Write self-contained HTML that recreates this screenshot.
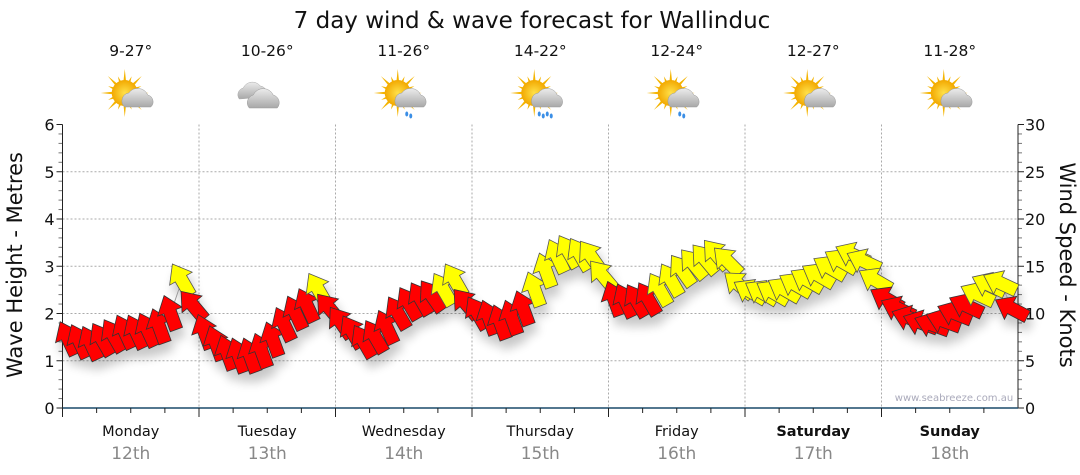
<!DOCTYPE html>
<html><head><meta charset="utf-8"><style>
body{margin:0;background:#fff;}
svg{display:block;font-family:"DejaVu Sans","Liberation Sans",sans-serif;}
</style></head><body>
<svg id="chart" width="1080" height="475" viewBox="0 0 1080 475">
<defs>
<filter id="sh" x="-50%" y="-50%" width="200%" height="200%"><feGaussianBlur in="SourceAlpha" stdDeviation="5"/><feOffset dx="3" dy="9"/><feComponentTransfer><feFuncA type="linear" slope="0.22"/></feComponentTransfer><feMerge><feMergeNode/><feMergeNode in="SourceGraphic"/></feMerge></filter>
<radialGradient id="sun" cx="0.5" cy="0.5" r="0.5"><stop offset="0" stop-color="#ffe14a"/><stop offset="1" stop-color="#f2a800"/></radialGradient>
<linearGradient id="cloud" x1="0" y1="0" x2="0" y2="1"><stop offset="0" stop-color="#ececec"/><stop offset="1" stop-color="#a8a8a8"/></linearGradient>
</defs>
<text x="532" y="28" font-size="23" text-anchor="middle" fill="#111">7 day wind &amp; wave forecast for Wallinduc</text>
<g id="grid"></g>
<g id="axes"></g>
<g id="icons"></g>
<g id="series" filter="url(#sh)"></g>
<text x="954" y="401" font-size="10" fill="#aab" text-anchor="middle">www.seabreeze.com.au</text>
<text transform="translate(22,265) rotate(-90)" font-size="21" text-anchor="middle" fill="#111">Wave Height - Metres</text>
<text transform="translate(1060,265) rotate(90)" font-size="21" text-anchor="middle" fill="#111">Wind Speed - Knots</text>
</svg>
<script>
const days=["Monday","Tuesday","Wednesday","Thursday","Friday","Saturday","Sunday"];
const dates=["12th","13th","14th","15th","16th","17th","18th"];
const temps=["9-27°","10-26°","11-26°","14-22°","12-24°","12-27°","11-28°"];
const icons=["sunCloud","cloud","sunRain","sunRainHeavy","sunRain","sunCloud","sunCloud"];
const leftTicks=[0,1,2,3,4,5,6];
const rightTicks=[0,5,10,15,20,25,30];
const windSpeed=[7.3,7,6.8,7.2,7.6,8,8,8.2,8.6,10,13.5,10.8,
 8,6.8,5.8,5.5,5.5,6,7.2,8.8,10,10.8,12.5,10.5,
 9,8,7,7.5,8.5,10,11,11.5,11.8,12.5,13.5,11,
 10,9.5,9,9.5,10.5,12.5,14.5,16,16.5,16.2,16,14,
 11.5,11.3,11.3,11.5,12.5,13.5,14.5,15.2,15.7,16.2,15.5,13,
 12.3,12.2,12.2,12.5,13,13.5,14,14.8,15.5,16.2,15.5,13.5,
 11.5,10.5,9.5,9,8.8,9.2,10,10.8,12,13,13.2,10.5];
const windDir=[155,155,155,150,150,155,155,155,160,160,150,140,
 160,160,160,160,160,160,160,155,155,155,150,140,
 145,150,150,150,155,150,150,150,145,150,150,140,
 150,160,160,160,160,160,160,155,150,150,145,140,
 160,155,150,150,150,150,145,140,140,140,135,130,
 120,120,120,120,120,120,120,120,120,115,115,120,
 120,115,110,110,110,110,112,115,115,115,115,118];
const X0=62.5,X1=1018,Y0=408,Y6=124.5;
const dayW=(X1-X0)/7;
const xT=i=>X0+(i+0.5)*dayW/12;
const yM=m=>Y0-(Y0-Y6)*m/6;
const yK=k=>Y0-(Y0-Y6)*k/30;
const NS="http://www.w3.org/2000/svg";
function mk(t,a,p){const e=document.createElementNS(NS,t);for(const k in a)e.setAttribute(k,a[k]);p.appendChild(e);return e;}
const grid=document.getElementById('grid'),axes=document.getElementById('axes'),icG=document.getElementById('icons'),ser=document.getElementById('series');
leftTicks.forEach(v=>{if(v>0&&v<6){const l=mk('line',{x1:X0,x2:X1,y1:yM(v),y2:yM(v),stroke:'#aaa','stroke-dasharray':'2,2'},grid);

}
const t=mk('text',{x:X0-8,y:yM(v)+6,'font-size':16,'text-anchor':'end',fill:'#111'},axes);t.textContent=v;

});
rightTicks.forEach(v=>{const t=mk('text',{x:X1+7,y:yK(v)+6,'font-size':16,fill:'#111'},axes);t.textContent=v;

});
for(let m=0;m<=30;m++){mk('line',{x1:X0-(m%5?4:6),x2:X0,y1:Y0-(Y0-Y6)*m/30,y2:Y0-(Y0-Y6)*m/30,stroke:m%5?'#777':'#222','stroke-width':1},axes);}
for(let k=0;k<=30;k++){mk('line',{x1:X1,x2:X1+(k%5?4:6),y1:yK(k),y2:yK(k),stroke:k%5?'#777':'#222'},axes);}
mk('line',{x1:X0,x2:X0,y1:Y6,y2:Y0,stroke:'#222'},axes);
mk('line',{x1:X1,x2:X1,y1:Y6,y2:Y0,stroke:'#222'},axes);
mk('line',{x1:X0,x2:X1,y1:Y0,y2:Y0,stroke:'#1a4a6a','stroke-width':1.5},axes);
for(let d=0;d<7;d++){
 const xs=X0+d*dayW,cx=xs+dayW/2;
 if(d>0){const l=mk('line',{x1:xs,x2:xs,y1:Y6,y2:Y0,stroke:'#aaa','stroke-dasharray':'2,2'},grid);
 
 }
 for(let q=0;q<4;q++){mk('line',{x1:xs+q*dayW/4,x2:xs+q*dayW/4,y1:Y0,y2:Y0+(q?5:9),stroke:'#222'},axes);}
 const dl=mk('text',{x:cx,y:436,'font-size':14.5,'text-anchor':'middle',fill:'#111','font-weight':d>=5?'bold':'normal'},axes);dl.textContent=days[d];
 
 
 const dt=mk('text',{x:cx,y:459,'font-size':17,'text-anchor':'middle',fill:'#888'},axes);dt.textContent=dates[d];
 
 
 const tt=mk('text',{x:cx,y:56,'font-size':15.5,'text-anchor':'middle',fill:'#111'},icG);tt.textContent=temps[d];
 
 
 const g=mk('g',{transform:`translate(${cx},95)`},icG);
 
 
 const ty=icons[d];
 if(ty!=='cloud'){
  for(let r=0;r<16;r++){const a=r*Math.PI/8;const L=r%2?18:24;mk('polygon',{points:`${-6+Math.cos(a-0.15)*10},${-2+Math.sin(a-0.15)*10} ${-6+Math.cos(a)*L},${-2+Math.sin(a)*L} ${-6+Math.cos(a+0.15)*10},${-2+Math.sin(a+0.15)*10}`,fill:'#f4b400'},g);}
  mk('circle',{cx:-6,cy:-2,r:13,fill:'url(#sun)'},g);
  mk('path',{d:'M-6,12 a8,8 0 0 1 4,-14 a11,11 0 0 1 19,2 a7,7 0 0 1 3,12 z',fill:'url(#cloud)',stroke:'#999','stroke-width':0.5},g);
  if(ty!=='sunCloud'){const n=ty==='sunRainHeavy'?4:2;for(let r=0;r<n;r++)mk('ellipse',{cx:3+r*4-(n>2?4:0),cy:19+(r%2)*2,rx:1.5,ry:2.5,fill:'#3a8ee6'},g);}
 }else{
  mk('path',{d:'M-28,4 a7,7 0 0 1 4,-11 a10,10 0 0 1 17,-2 a7,7 0 0 1 5,11 z',fill:'url(#cloud)',stroke:'#aaa','stroke-width':0.5},g);
  mk('path',{d:'M-18,13 a8,8 0 0 1 4,-13 a11,11 0 0 1 20,0 a8,8 0 0 1 4,13 z',fill:'url(#cloud)',stroke:'#999','stroke-width':0.5},g);
 }
}
let pd='';windSpeed.forEach((s,i)=>{pd+=(i?'L':'M')+xT(i).toFixed(1)+','+yK(s).toFixed(1);});
const ln=mk('path',{d:pd,fill:'none',stroke:'#999','stroke-width':1},ser);


windSpeed.forEach((s,i)=>{
 const rot=windDir[i]-180;
 const a=mk('polygon',{points:'0,-19 13,-2 6.5,-2 6.5,17 -6.5,17 -6.5,-2 -13,-2',transform:`translate(${xT(i).toFixed(1)},${yK(s).toFixed(1)}) rotate(${rot})`,fill:s>=12?'#ffff00':'#ff0000',stroke:s>=12?'#555':'#333','stroke-width':0.8},ser);
 
 
});
</script>
</body></html>
